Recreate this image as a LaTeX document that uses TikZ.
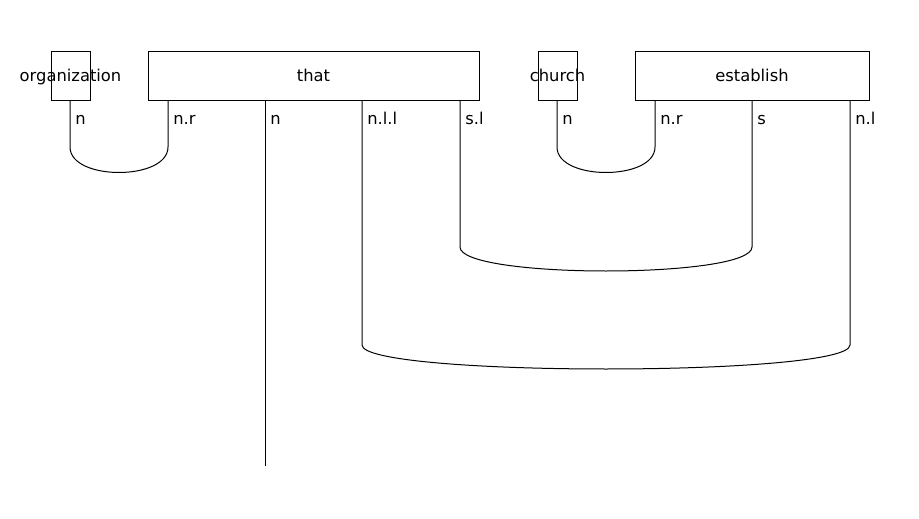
\documentclass[tikz,border=0pt]{standalone}
\usepackage{fontspec}
\setmainfont{DejaVu Sans}
\usepackage{tikz}
\tikzset{
  box/.style={rectangle, draw=black, line width=0.6pt, fill=white, minimum height=29.4pt, inner sep=0pt, text height=0.85em, text depth=0.18em, font=\fontsize{9.8}{11}\selectfont},
  wire/.style={line width=0.6pt, black},
  lbl/.style={anchor=base west, inner sep=0pt, font=\fontsize{9.8}{11}\selectfont},
}
\begin{document}
\begin{tikzpicture}[x=0.6pt, y=-0.6pt]
\useasboundingbox (0,0) rectangle (919,519);
% wires first, boxes on top
\coordinate (tip) at (265,466);
\draw[wire] (70,100) -- (70,147) .. controls (70,181) and (168,181) .. (168,147) -- (168,100);
\draw[wire] (265,100) -- (tip);
\draw[wire] (362,100) -- (362,345) .. controls (362,377) and (850,377) .. (850,345) -- (850,100);
\draw[wire] (460,100) -- (460,247) .. controls (460,279) and (752,279) .. (752,247) -- (752,100);
\draw[wire] (557,100) -- (557,147) .. controls (557,181) and (655,181) .. (655,147) -- (655,100);
% boxes
\node[box, minimum width=23.4pt, fill=none] (org) at (70.5,75.5) {\makebox[0pt]{organization}};
\node[box, minimum width=198.6pt] (that) at (313.5,75.5) {that};
\node[box, minimum width=23.4pt, fill=none] (church) at (557.5,75.5) {\makebox[0pt]{church}};
\node[box, minimum width=140.4pt] (establish) at (752,75.5) {establish};
% types
\node[lbl] (t1) at (75,124) {n};
\node[lbl] (t2) at (173,124) {n.r};
\node[lbl] (t3) at (270,124) {n};
\node[lbl] (t4) at (367,124) {n.l.l};
\node[lbl] (t5) at (465,124) {s.l};
\node[lbl] (t6) at (562,124) {n};
\node[lbl] (t7) at (660,124) {n.r};
\node[lbl] (t8) at (757,124) {s};
\node[lbl] (t9) at (855,124) {n.l};
\end{tikzpicture}
\end{document}
